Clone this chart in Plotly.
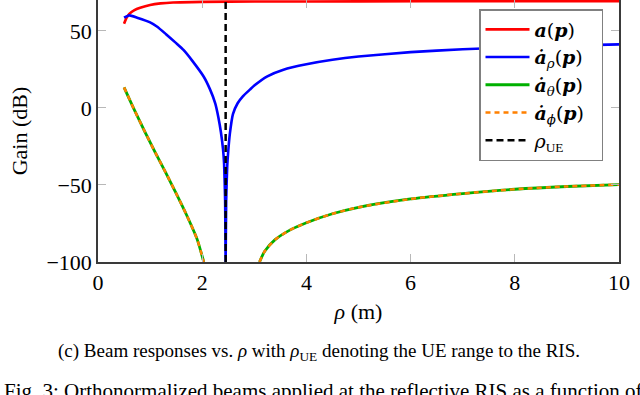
import plotly.graph_objects as go

# ---- data ----
red_x = [0.5, 0.55, 0.6, 0.7, 0.81, 1.0, 1.2, 1.44, 2.0, 3.0, 5.0, 7.5, 10.0]
red_y = [54.6, 58.5, 61.0, 63.5, 65.0, 66.8, 67.8, 68.4, 68.8, 69.0, 69.1, 69.2, 69.2]

blue_x = [0.5, 0.6, 0.75, 1.0, 1.13, 1.3, 1.5, 1.64, 1.8, 2.03, 2.15, 2.25, 2.31, 2.36,
          2.40, 2.42, 2.44, 2.45, 2.46, 2.48, 2.50, 2.53, 2.59, 2.68, 2.78, 2.92, 3.0,
          3.25, 3.56, 4.0, 4.5, 5.0, 6.0, 7.0, 8.0, 9.0, 10.0]
blue_y = [58.5, 60.0, 58.5, 55.5, 52.8, 48.0, 42.0, 37.6, 31.0, 20.2, 12.0, 3.0, -6.0, -16.0,
          -27.0, -36.0, -60.0, -100.0, -60.0, -38.0, -28.0, -17.0, -4.0, 3.0, 7.5, 12.0, 14.5,
          20.5, 24.8, 28.3, 31.2, 33.3, 36.2, 38.0, 39.4, 40.4, 41.2]

green_x = [0.5, 0.7, 0.9, 1.1, 1.3, 1.5, 1.7, 1.9, 2.03, None,
           3.1, 3.2, 3.4, 3.7, 4.0, 4.5, 5.0, 6.0, 7.0, 8.0, 9.0, 10.0]
green_y = [13.3, -1.5, -15.5, -29.0, -42.0, -55.5, -69.5, -85.0, -100.0, None,
           -100.0, -93.0, -85.5, -79.0, -74.5, -68.7, -64.5, -59.1, -55.6, -52.8, -51.0, -49.8]

orange_x = [0.5, 0.7, 0.9, 1.1, 1.3, 1.5, 1.7, 1.9, 2.03, None,
            3.1, 3.2, 3.4, 3.7, 4.0, 4.5, 5.0, 6.0, 7.0, 8.0, 9.0, 10.0]
orange_y = [13.3, -1.5, -15.5, -29.0, -42.0, -55.5, -69.5, -85.0, -100.0, None,
            -100.0, -93.0, -85.5, -79.0, -74.5, -68.7, -64.5, -59.1, -55.6, -52.8, -51.0, -49.8]

rho_ue = 2.45
ue_x = [rho_ue, rho_ue]
ue_y = [-100, 70]

x_ticks = [0, 2, 4, 6, 8, 10]
y_ticks = [-100, -50, 0, 50]
y_ticktext = ["−100", "−50", "0", "50"]

names = [
    "<b><i>a</i></b>(<b><i>p</i></b>)",
    "<b><i>ȧ</i></b><sub><i>ρ</i></sub>(<b><i>p</i></b>)&nbsp;&nbsp;",
    "<b><i>ȧ</i></b><sub><i>θ</i></sub>(<b><i>p</i></b>)&nbsp;&nbsp;",
    "<b><i>ȧ</i></b><sub><i>ϕ</i></sub>(<b><i>p</i></b>)&nbsp;&nbsp;",
    "<i>ρ</i><sub><span style='font-family:Liberation Serif'>UE</span></sub>",
]

FONT = "'Liberation Serif', 'Times New Roman', serif"
LEGFONT = "'DejaVu Serif', serif"

fig = go.Figure()
fig.add_trace(go.Scatter(x=red_x, y=red_y, mode="lines", name=names[0],
                         line=dict(color="#ff0000", width=2.6, shape="spline", smoothing=0.6)))
fig.add_trace(go.Scatter(x=blue_x, y=blue_y, mode="lines", name=names[1],
                         line=dict(color="#0000ff", width=2.6, shape="spline", smoothing=0.5)))
fig.add_trace(go.Scatter(x=green_x, y=green_y, mode="lines", name=names[2],
                         line=dict(color="#00b000", width=2.8, shape="spline", smoothing=0.7),
                         connectgaps=False))
fig.add_trace(go.Scatter(x=orange_x, y=orange_y, mode="lines", name=names[3],
                         line=dict(color="#ff8000", width=2.5, dash="5px,4px", shape="spline", smoothing=0.7),
                         connectgaps=False))
fig.add_trace(go.Scatter(x=ue_x, y=ue_y, mode="lines", name=names[4],
                         line=dict(color="#000000", width=2.5, dash="7px,4px")))

axis_common = dict(
    showgrid=False, zeroline=False, showline=True, linecolor="#3a3a3a", linewidth=1.5,
    mirror="allticks", ticks="inside", ticklen=8, tickwidth=1, tickcolor="#b8b8b8",
    tickfont=dict(family=FONT, size=22, color="black"), automargin=False,
)

fig.update_xaxes(range=[0, 10], tickvals=x_ticks, ticktext=[str(v) for v in x_ticks],
                 title=dict(text="<i>ρ</i> (m)", font=dict(family=FONT, size=22, color="black"), standoff=9),
                 **axis_common)
fig.update_yaxes(range=[-100, 70], tickvals=y_ticks, ticktext=y_ticktext,
                 title=dict(text="Gain (dB)", font=dict(family=FONT, size=22, color="black"), standoff=13),
                 **axis_common)

fig.update_layout(
    width=640, height=395,
    margin=dict(l=98, r=21, t=0, b=133),
    plot_bgcolor="white", paper_bgcolor="white",
    font=dict(family=FONT, color="black"),
    showlegend=True,
    legend=dict(x=(603 - 98) / 521, y=(262 - 9) / 262, xanchor="right", yanchor="top",
                bgcolor="white", bordercolor="#808080", borderwidth=1.5,
                font=dict(family=LEGFONT, size=19, color="black"),
                itemwidth=44, tracegroupgap=0),
    annotations=[
        dict(text="(c) Beam responses vs. <i>ρ</i> with <i>ρ</i><sub>UE</sub> denoting the UE range to the RIS.",
             xref="paper", yref="paper", x=(319 - 98) / 521, y=-(352 - 262) / 262,
             xanchor="center", yanchor="middle", showarrow=False,
             font=dict(family=FONT, size=19, color="black")),
        dict(text="Fig. 3: Orthonormalized beams applied at the reflective RIS as a function of",
             xref="paper", yref="paper", x=-(98 - 2) / 521, y=-(391 - 262) / 262,
             xanchor="left", yanchor="middle", showarrow=False,
             font=dict(family=FONT, size=21, color="black")),
    ],
)

fig.write_html("out.html", config={"displayModeBar": False},
               post_script="document.body.style.margin='0';document.body.style.padding='0';document.body.style.overflow='hidden';")
